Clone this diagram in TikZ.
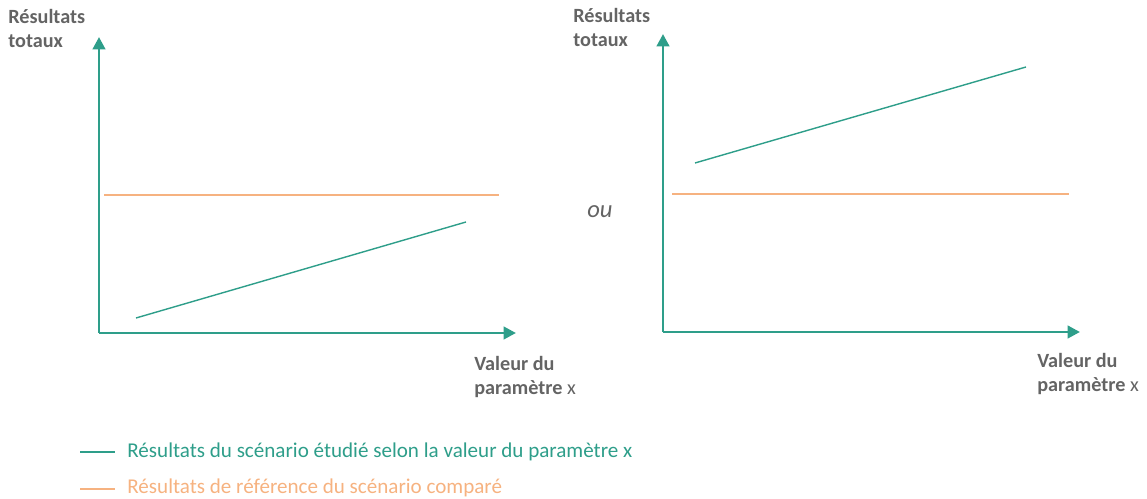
\documentclass[tikz,border=0pt]{standalone}
\usepackage{fontspec}
\setmainfont{Carlito}
\usetikzlibrary{arrows.meta}
\definecolor{vert}{RGB}{46,158,138}
\definecolor{orange}{RGB}{246,178,128}
\definecolor{gris}{RGB}{100,100,100}
\begin{document}
\begin{tikzpicture}[x=0.02cm,y=-0.02cm,
  axe/.style={draw=vert,line width=1.7pt,-{Triangle[length=7pt,width=7pt]}},
  serie/.style={draw=vert,line width=0.8pt},
  ref/.style={draw=orange,line width=0.7pt},
  titre/.style={text=gris,font=\bfseries\fontsize{11.5}{13.5}\selectfont,align=left,anchor=north west,inner sep=0pt},
  legende/.style={font=\fontsize{12}{14}\selectfont,anchor=base west,inner sep=0pt}]
\useasboundingbox (0,0) rectangle (1147,499);
% graphique de gauche
\def\ox{99}
\def\oy{333}
\coordinate (o1) at (\ox,\oy);
\coordinate (y1) at (\ox,37);
\coordinate (x1) at (516,\oy);
\draw[axe] (o1) -- (y1);
\draw[axe] (o1) -- (x1);
\coordinate (r1a) at (104,195);
\coordinate (r1b) at (499,195);
\draw[ref] (r1a) -- (r1b);
\coordinate (s1a) at (136,318);
\coordinate (s1b) at (466,222);
\draw[serie] (s1a) -- (s1b);
\node[titre] (t1) at (8,9) {Résultats\\totaux};
\node[titre] (v1) at (474,356) {Valeur du\\paramètre {\mdseries x}};

% graphique de droite
\def\ox{663}
\def\oy{332}
\coordinate (o2) at (\ox,\oy);
\coordinate (y2) at (\ox,34);
\coordinate (x2) at (1080,\oy);
\draw[axe] (o2) -- (y2);
\draw[axe] (o2) -- (x2);
\coordinate (r2a) at (672,194);
\coordinate (r2b) at (1069,194);
\draw[ref] (r2a) -- (r2b);
\coordinate (s2a) at (695,163);
\coordinate (s2b) at (1026,67);
\draw[serie] (s2a) -- (s2b);
\node[titre] (t2) at (573,8) {Résultats\\totaux};
\node[titre] (v2) at (1037,353) {Valeur du\\paramètre {\mdseries x}};

\node[text=gris,font=\itshape\fontsize{14}{16}\selectfont] (ou) at (600,212) {ou};

% legende
\coordinate (l1a) at (80,452);
\coordinate (l1b) at (115,452);
\draw[serie,line width=0.6pt] (l1a) -- (l1b);
\node[legende,text=vert] (l1) at (127,458) {Résultats du scénario étudié selon la valeur du paramètre x};
\coordinate (l2a) at (80,489);
\coordinate (l2b) at (115,489);
\draw[ref] (l2a) -- (l2b);
\node[legende,text=orange] (l2) at (127,494) {Résultats de référence du scénario comparé};
\end{tikzpicture}
\end{document}
